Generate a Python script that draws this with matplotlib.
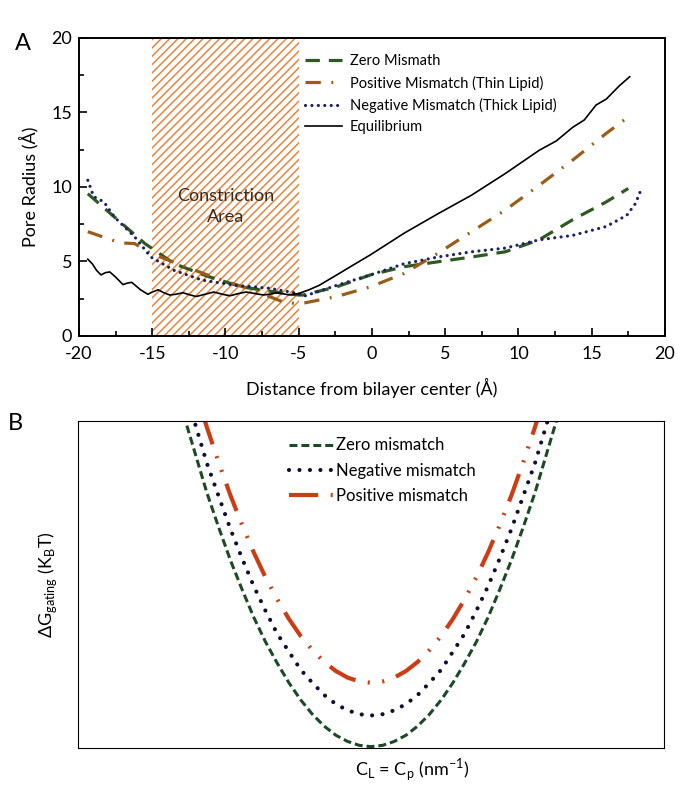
import matplotlib.pyplot as plt
from matplotlib.ticker import MultipleLocator

plt.rcParams['font.family'] = ['Lato', 'DejaVu Sans']
plt.rcParams['hatch.linewidth'] = 1.1
plt.rcParams['axes.unicode_minus'] = False

# ---- panel A data (distance from bilayer center, pore radius) ----
zero_x = [-19.4, -17.6, -15.5, -13.5, -11.2, -8.9, -6.6, -5.0, -4.7, -2.4, -0.1,
          2.2, 4.5, 6.8, 9.1, 11.4, 13.7, 16.0, 17.5]
zero_y = [9.55, 8.0, 6.2, 4.85, 4.0, 3.3, 2.95, 2.75, 2.75, 3.3, 4.1,
          4.65, 4.98, 5.3, 5.65, 6.45, 7.8, 9.0, 9.9]

pos_x = [-19.4, -17.2, -16.2, -15.1, -13.0, -10.7, -8.2, -6.1, -5.0, -4.7, -2.4,
         -0.1, 2.2, 4.5, 6.8, 9.1, 11.4, 13.7, 16.0, 17.7]
pos_y = [7.0, 6.25, 6.2, 5.55, 4.75, 3.9, 3.1, 2.3, 2.15, 2.2, 2.65,
         3.3, 4.2, 5.55, 7.0, 8.45, 10.1, 11.8, 13.6, 14.85]

neg_x = [-19.4, -19.0, -18.3, -17.6, -16.2, -15.1, -13.5, -11.6, -9.3, -7.0, -5.0,
         -4.7, -2.4, -0.1, 2.2, 4.5, 6.8, 9.1, 11.4, 13.7, 16.0, 17.4, 18.0, 18.4]
neg_y = [10.45, 9.35, 9.0, 8.0, 6.65, 5.3, 4.4, 3.75, 3.4, 3.2, 2.85,
         2.65, 3.4, 4.1, 4.85, 5.3, 5.65, 5.9, 6.45, 6.75, 7.35, 8.1, 8.9, 9.9]

eq_x = [-19.4, -19.1, -18.8, -18.5, -18.2, -17.9, -17.5, -17.0, -16.7, -16.4,
        -16.1, -15.8, -15.3, -15.0, -14.6, -14.2, -13.8, -13.4, -12.9, -12.4,
        -12.0, -11.4, -10.8, -10.2, -9.7, -9.1, -8.6, -8.0, -7.4, -6.9,
        -6.5, -6.0, -5.6, -5.0, -4.3, -3.6, -2.4, -1.3, -0.1, 2.2, 4.5, 6.8,
        9.1, 11.4, 12.6, 13.7, 14.5, 15.3, 16.0, 16.9, 17.6]
eq_y = [5.15, 4.85, 4.4, 4.1, 4.25, 4.3, 3.95, 3.45, 3.55, 3.6,
        3.35, 3.1, 2.8, 2.95, 3.1, 2.9, 2.75, 2.8, 2.9, 2.75,
        2.65, 2.8, 2.95, 2.8, 2.7, 2.85, 2.95, 2.85, 2.75, 2.82,
        2.9, 2.82, 2.75, 2.85, 3.1, 3.4, 4.1, 4.75, 5.45, 6.9, 8.2, 9.45,
        10.9, 12.45, 13.1, 14.0, 14.5, 15.5, 15.9, 16.8, 17.4]

# ---- panel B data (normalised curvature, gating energy) ----
b_x = [0.18, 0.20, 0.22, 0.24, 0.26, 0.28, 0.30, 0.32, 0.34, 0.36, 0.38,
       0.40, 0.42, 0.44, 0.46, 0.48, 0.50, 0.52, 0.54, 0.56, 0.58, 0.60,
       0.62, 0.64, 0.66, 0.68, 0.70, 0.72, 0.74, 0.76, 0.78, 0.80, 0.82]
b_zero = [1.02, 0.90, 0.78, 0.675, 0.575, 0.485, 0.40, 0.325, 0.26, 0.20, 0.148,
          0.104, 0.068, 0.04, 0.021, 0.009, 0.005, 0.009, 0.021, 0.04, 0.068, 0.104,
          0.148, 0.20, 0.26, 0.325, 0.40, 0.485, 0.575, 0.675, 0.78, 0.90, 1.02]
b_neg = [1.11, 0.99, 0.87, 0.77, 0.67, 0.58, 0.495, 0.42, 0.35, 0.295, 0.24,
         0.20, 0.163, 0.135, 0.116, 0.104, 0.10, 0.104, 0.116, 0.135, 0.163, 0.20,
         0.24, 0.295, 0.35, 0.42, 0.495, 0.58, 0.67, 0.77, 0.87, 0.99, 1.11]
b_pos = [1.22, 1.095, 0.98, 0.873, 0.773, 0.682, 0.598, 0.522, 0.455, 0.395, 0.343,
         0.30, 0.264, 0.236, 0.216, 0.204, 0.20, 0.204, 0.216, 0.236, 0.264, 0.30,
         0.343, 0.395, 0.455, 0.522, 0.598, 0.682, 0.773, 0.873, 0.98, 1.095, 1.22]

fig = plt.figure(figsize=(6.86, 8.10), dpi=100)

# ---------------- panel A ----------------
ax = fig.add_axes([0.1152, 0.5852, 0.854, 0.3679])
ax.axvspan(-15, -5, facecolor='white', edgecolor='#e8843c', hatch='////', linewidth=0)
ax.text(-10, 8.7, 'Constriction\nArea', ha='center', va='center', fontsize=13,
        color='#3a2a1e', linespacing=1.35)

ax.plot(zero_x, zero_y, color='#2f5a1f', lw=2.3, linestyle=(0, (4.5, 2.8)),
        label='Zero Mismath')
ax.plot(pos_x, pos_y, color='#9a5d17', lw=2.3, linestyle=(0, (4.8, 3.3, 0.6, 3.3)),
        label='Positive Mismatch (Thin Lipid)')
ax.plot(neg_x, neg_y, color='#1b2266', lw=2.3, linestyle=(0, (0.01, 2.0)),
        dash_capstyle='round', label='Negative Mismatch (Thick Lipid)')
ax.plot(eq_x, eq_y, color='black', lw=1.2, label='Equilibrium')

ax.set_xlim(-20, 20)
ax.set_ylim(0, 20)
ax.xaxis.set_major_locator(MultipleLocator(5))
ax.xaxis.set_minor_locator(MultipleLocator(2.5))
ax.yaxis.set_major_locator(MultipleLocator(5))
ax.yaxis.set_minor_locator(MultipleLocator(2.5))
ax.tick_params(which='both', direction='in', width=1.2, labelsize=13)
ax.tick_params(axis='x', pad=7)
ax.tick_params(axis='y', pad=5)
ax.tick_params(which='major', length=6)
ax.tick_params(which='minor', length=3.5)
for s in ax.spines.values():
    s.set_linewidth(1.4)
ax.set_xlabel('Distance from bilayer center (Å)', fontsize=13, labelpad=12)
ax.set_ylabel('Pore Radius (Å)', fontsize=13, labelpad=9)
ax.legend(loc='upper left', bbox_to_anchor=(0.37, 0.975), frameon=False,
          fontsize=10.5, handlelength=2.6, handletextpad=0.5, labelspacing=0.5,
          borderaxespad=0.2)

# ---------------- panel B ----------------
bx = fig.add_axes([0.1137, 0.0762, 0.854, 0.4044])
bx.plot(b_x, b_zero, color='#1b4a24', lw=2.2, linestyle=(0, (2.6, 1.3)),
        label='Zero mismatch')
bx.plot(b_x, b_neg, color='#0f0f33', lw=3.0, linestyle=(0, (0.01, 2.5)),
        dash_capstyle='round', label='Negative mismatch')
bx.plot(b_x, b_pos, color='#cc3d14', lw=3.0,
        linestyle=(0, (7.0, 3.0, 0.5, 3.0, 0.5, 3.0)), label='Positive mismatch')
bx.set_xlim(0, 1)
bx.set_ylim(0, 1)
bx.set_xticks([])
bx.set_yticks([])
bx.set_xlabel(r'C$_{\mathregular{L}}$ = C$_{\mathregular{p}}$ (nm$^{\mathregular{-1}}$)',
              fontsize=13, labelpad=6)
bx.xaxis.label.set_x(0.57)
bx.set_ylabel(r'ΔG$_{\mathregular{gating}}$ (K$_{\mathregular{B}}$T)', fontsize=13,
              labelpad=14)
bx.legend(loc='upper left', bbox_to_anchor=(0.335, 0.995), frameon=False,
          fontsize=12, handlelength=2.6, handletextpad=0.2, labelspacing=0.55)

fig.text(23 / 686, 1 - 43 / 810, 'A', fontsize=17, ha='center', va='center')
fig.text(15 / 686, 1 - 423 / 810, 'B', fontsize=17, ha='center', va='center')

fig.savefig('out.png', dpi=100)
